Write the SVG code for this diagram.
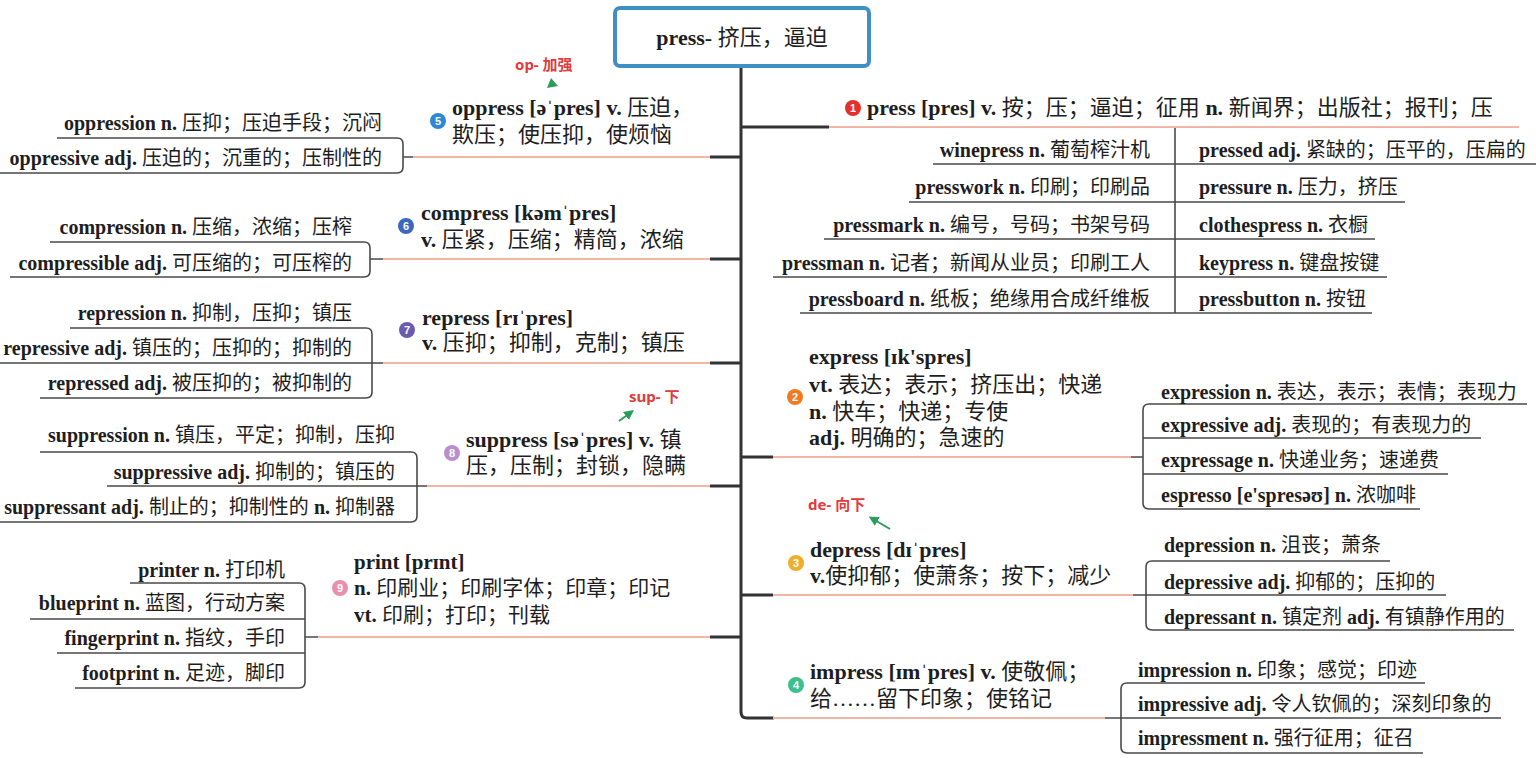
<svg xmlns="http://www.w3.org/2000/svg" width="1536" height="758" viewBox="0 0 1536 758">
<defs>
<style>
.t{font-family:"Liberation Serif","Noto Sans CJK SC",serif;fill:#1e1e1e}
.b{font-weight:bold}
.s{font-size:20px}
.m{font-size:22px}
.red{font-family:"Noto Sans","Noto Sans CJK SC",sans-serif;font-weight:bold;font-size:15px;fill:#e23b3b}
.num{font-family:"Liberation Sans",sans-serif;font-size:11px;font-weight:bold;fill:#fff;text-anchor:middle}
.trunk{fill:none;stroke:#333;stroke-width:3;stroke-linecap:round}
.stub{fill:none;stroke:#333;stroke-width:3}
.pink{fill:none;stroke:#f2b6a4;stroke-width:2}
.ul{fill:none;stroke:#4a4a4a;stroke-width:1.6}
.garrow{fill:none;stroke:#2a9d5c;stroke-width:2;marker-end:url(#gh)}
</style>
<marker id="gh" viewBox="0 0 10 10" refX="5" refY="5" markerWidth="5" markerHeight="5" orient="auto">
<path d="M0,0 L10,5 L0,10 Z" fill="#2a9d5c"/>
</marker>
</defs>
<rect width="1536" height="758" fill="#fff"/>

<g id="connectors">
<path class="trunk" d="M741,67 V712 Q741,718 747,718 H773"/>
<path class="stub" d="M741,127 H829 M741,457 H773 M741,595 H773"/>
<path class="stub" d="M741,157 H710 M741,259 H710 M741,363 H710 M741,486 H710 M741,637 H710"/>
<path class="pink" d="M829,127 H1519 M773,457 H1131 M773,595 H1133 M773,718 H1105"/>
<path class="pink" d="M710,157 H413 M710,259 H383 M710,363 H383 M710,486 H427 M710,637 H318"/>
<path class="ul" d="M1131,457 H1143 M1133,595 H1146 M1105,718 H1121"/>
<path class="ul" d="M413,157 H403 M383,259 H370 M383,363 H372 M427,486 H417 M318,637 H305"/>
<path class="ul" d="M57,138 H397 Q403,138 403,144 V167 Q403,173 397,173 H0"/>
<path class="ul" d="M50,242 H364 Q370,242 370,248 V271 Q370,277 364,277 H10"/>
<path class="ul" d="M70,328 H366 Q372,328 372,334 V392 Q372,398 366,398 H40 M0,363 H372"/>
<path class="ul" d="M40,452 H411 Q417,452 417,458 V516 Q417,522 411,522 H0 M107,486 H417"/>
<path class="ul" d="M130,583 H299 Q305,583 305,589 V682 Q305,688 299,688 H75 M30,619 H305 M57,653 H305"/>
<path class="ul" d="M1527,404 H1149 Q1143,404 1143,410 V503 Q1143,509 1149,509 H1420 M1143,438 H1481 M1143,474 H1448"/>
<path class="ul" d="M1390,561 H1152 Q1146,561 1146,567 V624 Q1146,630 1152,630 H1514 M1146,595 H1446"/>
<path class="ul" d="M1425,683 H1127 Q1121,683 1121,689 V747 Q1121,753 1127,753 H1423 M1121,718 H1501"/>
<path class="ul" d="M1175,128 V313 M933,164 H1175 M909,202 H1175 M824,239 H1175 M773,277 H1175 M800,313 H1175"/>
<path class="ul" d="M1175,164 H1536 M1175,202 H1405 M1175,239 H1375 M1175,277 H1387 M1175,313 H1372"/>
</g>

<g id="root">
<rect x="615" y="8" width="254" height="58" rx="5" fill="#fff" stroke="#3f8fc4" stroke-width="4"/>
<text class="t m" x="742" y="45" text-anchor="middle"><tspan class="b">press-</tspan> 挤压，逼迫</text>
</g>

<g id="n1-press">
<circle cx="853" cy="108" r="8" fill="#e3302a"/><text class="num" x="853" y="112">1</text>
<text class="t m" x="867" y="115"><tspan class="b">press [pres] v.</tspan> 按；压；逼迫；征用 <tspan class="b">n.</tspan> 新闻界；出版社；报刊；压</text>
</g>
<g id="press-left">
<text class="t s" x="1150" y="157" text-anchor="end"><tspan class="b">winepress n.</tspan> 葡萄榨汁机</text>
<text class="t s" x="1150" y="194" text-anchor="end"><tspan class="b">presswork n.</tspan> 印刷；印刷品</text>
<text class="t s" x="1150" y="232" text-anchor="end"><tspan class="b">pressmark n.</tspan> 编号，号码；书架号码</text>
<text class="t s" x="1150" y="270" text-anchor="end"><tspan class="b">pressman n.</tspan> 记者；新闻从业员；印刷工人</text>
<text class="t s" x="1150" y="306" text-anchor="end"><tspan class="b">pressboard n.</tspan> 纸板；绝缘用合成纤维板</text>
</g>
<g id="press-right">
<text class="t s" x="1199" y="157"><tspan class="b">pressed adj.</tspan> 紧缺的；压平的，压扁的</text>
<text class="t s" x="1199" y="194"><tspan class="b">pressure n.</tspan> 压力，挤压</text>
<text class="t s" x="1199" y="232"><tspan class="b">clothespress n.</tspan> 衣橱</text>
<text class="t s" x="1199" y="270"><tspan class="b">keypress n.</tspan> 键盘按键</text>
<text class="t s" x="1199" y="306"><tspan class="b">pressbutton n.</tspan> 按钮</text>
</g>

<g id="n2-express">
<circle cx="795" cy="397" r="8" fill="#f07a22"/><text class="num" x="795" y="401">2</text>
<text class="t m" x="809" y="364"><tspan class="b">express [ɪk'spres]</tspan></text>
<text class="t m" x="809" y="392"><tspan class="b">vt.</tspan> 表达；表示；挤压出；快递</text>
<text class="t m" x="809" y="419"><tspan class="b">n.</tspan> 快车；快递；专使</text>
<text class="t m" x="809" y="445"><tspan class="b">adj.</tspan> 明确的；急速的</text>
</g>
<g id="express-items">
<text class="t s" x="1161" y="399"><tspan class="b">expression n.</tspan> 表达，表示；表情；表现力</text>
<text class="t s" x="1161" y="432"><tspan class="b">expressive adj.</tspan> 表现的；有表现力的</text>
<text class="t s" x="1161" y="467"><tspan class="b">expressage n.</tspan> 快递业务；速递费</text>
<text class="t s" x="1161" y="502"><tspan class="b">espresso [e'spresəʊ] n.</tspan> 浓咖啡</text>
</g>

<g id="n3-depress">
<text class="red" x="808" y="510">de- 向下</text>
<path class="garrow" d="M890,529 L873,519"/>
<circle cx="796" cy="563" r="8" fill="#f0ae2e"/><text class="num" x="796" y="567">3</text>
<text class="t m" x="810" y="557"><tspan class="b">depress [dɪˈpres]</tspan></text>
<text class="t m" x="810" y="583"><tspan class="b">v.</tspan>使抑郁；使萧条；按下；减少</text>
</g>
<g id="depress-items">
<text class="t s" x="1164" y="552"><tspan class="b">depression n.</tspan> 沮丧；萧条</text>
<text class="t s" x="1164" y="589"><tspan class="b">depressive adj.</tspan> 抑郁的；压抑的</text>
<text class="t s" x="1164" y="624"><tspan class="b">depressant n.</tspan> 镇定剂 <tspan class="b">adj.</tspan> 有镇静作用的</text>
</g>

<g id="n4-impress">
<circle cx="796" cy="685" r="8" fill="#3dbf8e"/><text class="num" x="796" y="689">4</text>
<text class="t m" x="810" y="679"><tspan class="b">impress [ɪmˈpres] v.</tspan> 使敬佩；</text>
<text class="t m" x="810" y="706">给……留下印象；使铭记</text>
</g>
<g id="impress-items">
<text class="t s" x="1138" y="677"><tspan class="b">impression n.</tspan> 印象；感觉；印迹</text>
<text class="t s" x="1138" y="711"><tspan class="b">impressive adj.</tspan> 令人钦佩的；深刻印象的</text>
<text class="t s" x="1138" y="745"><tspan class="b">impressment n.</tspan> 强行征用；征召</text>
</g>

<g id="n5-oppress">
<text class="red" x="515" y="70">op- 加强</text>
<path d="M547,88 L551,78 L558,86 Z" fill="#2a9d5c"/>
<circle cx="438" cy="121" r="8" fill="#2d88d6"/><text class="num" x="438" y="125">5</text>
<text class="t m" x="452" y="115"><tspan class="b">oppress [əˈpres] v.</tspan> 压迫，</text>
<text class="t m" x="452" y="142">欺压；使压抑，使烦恼</text>
</g>
<g id="oppress-items">
<text class="t s" x="382" y="130" text-anchor="end"><tspan class="b">oppression n.</tspan> 压抑；压迫手段；沉闷</text>
<text class="t s" x="382" y="165" text-anchor="end"><tspan class="b">oppressive adj.</tspan> 压迫的；沉重的；压制性的</text>
</g>

<g id="n6-compress">
<circle cx="406" cy="226" r="8" fill="#3a68bf"/><text class="num" x="406" y="230">6</text>
<text class="t m" x="421" y="220"><tspan class="b">compress [kəmˈpres]</tspan></text>
<text class="t m" x="421" y="247"><tspan class="b">v.</tspan> 压紧，压缩；精简，浓缩</text>
</g>
<g id="compress-items">
<text class="t s" x="352" y="234" text-anchor="end"><tspan class="b">compression n.</tspan> 压缩，浓缩；压榨</text>
<text class="t s" x="352" y="270" text-anchor="end"><tspan class="b">compressible adj.</tspan> 可压缩的；可压榨的</text>
</g>

<g id="n7-repress">
<circle cx="407" cy="330" r="8" fill="#6a5bb0"/><text class="num" x="407" y="334">7</text>
<text class="t m" x="422" y="325"><tspan class="b">repress [rɪˈpres]</tspan></text>
<text class="t m" x="422" y="350"><tspan class="b">v.</tspan> 压抑；抑制，克制；镇压</text>
</g>
<g id="repress-items">
<text class="t s" x="352" y="320" text-anchor="end"><tspan class="b">repression n.</tspan> 抑制，压抑；镇压</text>
<text class="t s" x="352" y="355" text-anchor="end"><tspan class="b">repressive adj.</tspan> 镇压的；压抑的；抑制的</text>
<text class="t s" x="352" y="390" text-anchor="end"><tspan class="b">repressed adj.</tspan> 被压抑的；被抑制的</text>
</g>

<g id="n8-suppress">
<text class="red" x="629" y="402">sup- 下</text>
<path class="garrow" d="M619,421 L630,413"/>
<circle cx="452" cy="453" r="8" fill="#b98fd0"/><text class="num" x="452" y="457">8</text>
<text class="t m" x="466" y="447"><tspan class="b">suppress [səˈpres] v.</tspan> 镇</text>
<text class="t m" x="466" y="473">压，压制；封锁，隐瞒</text>
</g>
<g id="suppress-items">
<text class="t s" x="395" y="442" text-anchor="end"><tspan class="b">suppression n.</tspan> 镇压，平定；抑制，压抑</text>
<text class="t s" x="395" y="479" text-anchor="end"><tspan class="b">suppressive adj.</tspan> 抑制的；镇压的</text>
<text class="t s" x="395" y="514" text-anchor="end"><tspan class="b">suppressant adj.</tspan> 制止的；抑制性的 <tspan class="b">n.</tspan> 抑制器</text>
</g>

<g id="n9-print">
<circle cx="340" cy="588" r="8" fill="#e88fae"/><text class="num" x="340" y="592">9</text>
<text class="t" style="font-size:21px" x="354" y="569"><tspan class="b">print [prɪnt]</tspan></text>
<text class="t" style="font-size:21px" x="354" y="595"><tspan class="b">n.</tspan> 印刷业；印刷字体；印章；印记</text>
<text class="t" style="font-size:21px" x="354" y="622"><tspan class="b">vt.</tspan> 印刷；打印；刊载</text>
</g>
<g id="print-items">
<text class="t s" x="285" y="577" text-anchor="end"><tspan class="b">printer n.</tspan> 打印机</text>
<text class="t s" x="285" y="610" text-anchor="end"><tspan class="b">blueprint n.</tspan> 蓝图，行动方案</text>
<text class="t s" x="285" y="645" text-anchor="end"><tspan class="b">fingerprint n.</tspan> 指纹，手印</text>
<text class="t s" x="285" y="680" text-anchor="end"><tspan class="b">footprint n.</tspan> 足迹，脚印</text>
</g>
</svg>
